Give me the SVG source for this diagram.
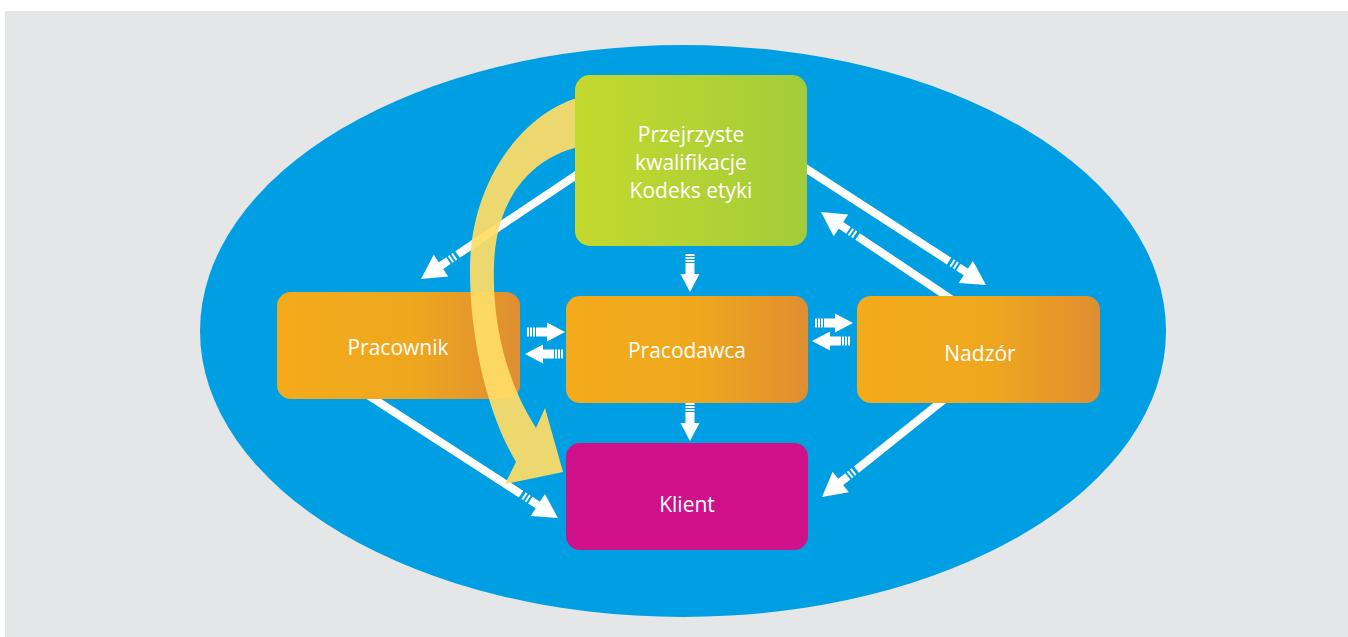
<svg xmlns="http://www.w3.org/2000/svg" width="1348" height="637" viewBox="0 0 1348 637">
  <style>
    .lbl { font-family: "Open Sans", "Liberation Sans", sans-serif; font-size: 21px; fill: #ffffff; text-anchor: middle; }
    .shaft { stroke: #ffffff; stroke-width: 8; fill: none; }
    .w { fill: #ffffff; }
  </style>
  <defs>
    <linearGradient id="gOrange" x1="0" y1="0" x2="1" y2="0">
      <stop offset="0" stop-color="#f3ab1b"/>
      <stop offset="0.55" stop-color="#efa71e"/>
      <stop offset="1" stop-color="#df8e30"/>
    </linearGradient>
    <linearGradient id="gGreen" x1="0" y1="0" x2="1" y2="0">
      <stop offset="0" stop-color="#c4d92e"/>
      <stop offset="1" stop-color="#a3cc3a"/>
    </linearGradient>
    <!-- large arrow tip: head, stub and two ticks; tip at origin, pointing +x -->
    <g id="bigHead">
      <polygon class="w" points="0,0 -24,-13 -24,13"/>
      <rect class="w" x="-33" y="-4" width="10" height="8"/>
      <rect class="w" x="-37" y="-4" width="2" height="8"/>
      <rect class="w" x="-41" y="-4" width="2" height="8"/>
    </g>
    <!-- short arrow: three ticks, stub and head; tip at origin, pointing +x -->
    <g id="smallArrow">
      <polygon class="w" points="0,0 -18,-9.5 -18,9.5"/>
      <rect class="w" x="-29" y="-4.5" width="12" height="9"/>
      <rect class="w" x="-32" y="-4.5" width="2" height="9"/>
      <rect class="w" x="-35" y="-4.5" width="2" height="9"/>
      <rect class="w" x="-38" y="-4.5" width="2" height="9"/>
    </g>
  </defs>

  <rect x="0" y="0" width="1348" height="637" fill="#ffffff"/>
  <rect x="5" y="11" width="1343" height="626" fill="#e5e6e7"/>
  <ellipse cx="683" cy="331" rx="483" ry="286" fill="#009fe3"/>

  <g id="connectors">
    <!-- Przejrzyste kwalifikacje -> Pracownik -->
    <g transform="translate(421,279) rotate(146.2)">
      <line class="shaft" x1="-216" y1="0" x2="-44" y2="0"/>
      <use href="#bigHead"/>
    </g>
    <!-- Przejrzyste kwalifikacje -> Nadzór -->
    <g transform="translate(986,285) rotate(32.9)">
      <line class="shaft" x1="-234" y1="0" x2="-44" y2="0"/>
      <use href="#bigHead"/>
    </g>
    <!-- Nadzór -> Przejrzyste kwalifikacje -->
    <g transform="translate(821,212) rotate(-146.2)">
      <line class="shaft" x1="-168" y1="0" x2="-44" y2="0"/>
      <use href="#bigHead"/>
    </g>
    <!-- Pracownik -> Klient -->
    <g transform="translate(558,518) rotate(32.9)">
      <line class="shaft" x1="-236" y1="0" x2="-44" y2="0"/>
      <use href="#bigHead"/>
    </g>
    <!-- Nadzór -> Klient -->
    <g transform="translate(822,497) rotate(141.4)">
      <line class="shaft" x1="-170" y1="0" x2="-44" y2="0"/>
      <use href="#bigHead"/>
    </g>
    <!-- short arrows between neighbouring boxes -->
    <use href="#smallArrow" transform="translate(690,292) rotate(90)"/>
    <use href="#smallArrow" transform="translate(690,441) rotate(90)"/>
    <use href="#smallArrow" transform="translate(565,332)"/>
    <use href="#smallArrow" transform="translate(525,354) rotate(180)"/>
    <use href="#smallArrow" transform="translate(853,323)"/>
    <use href="#smallArrow" transform="translate(812,341) rotate(180)"/>
  </g>

  <g id="pracownik">
    <rect x="277" y="292" width="243" height="107" rx="14" fill="url(#gOrange)"/>
    <text class="lbl" x="398" y="355">Pracownik</text>
  </g>

  <!-- curved yellow arrow from the top box down to Klient -->
  <g id="curvedArrow">
    <path d="M600,93 C530,100 472,175 470,265 C469,330 485,410 516,462 L505,484 L563,472 L545,408 L536,428 C505,380 492,320 494,265 C496,200 530,150 600,143 Z" fill="#ffdd66" fill-opacity="0.93"/>
  </g>

  <g id="przejrzyste">
    <rect x="575" y="75" width="232" height="171" rx="15" fill="url(#gGreen)"/>
    <text class="lbl" x="691" y="142">Przejrzyste</text>
    <text class="lbl" x="691" y="170">kwalifikacje</text>
    <text class="lbl" x="691" y="198">Kodeks etyki</text>
  </g>

  <g id="pracodawca">
    <rect x="566" y="296" width="242" height="107" rx="14" fill="url(#gOrange)"/>
    <text class="lbl" x="687" y="358">Pracodawca</text>
  </g>

  <g id="nadzor">
    <rect x="857" y="296" width="243" height="107" rx="14" fill="url(#gOrange)"/>
    <text class="lbl" x="980" y="361">Nadzór</text>
  </g>

  <g id="klient">
    <rect x="566" y="443" width="242" height="107" rx="14" fill="#d0128a"/>
    <text class="lbl" x="687" y="512">Klient</text>
  </g>
</svg>
